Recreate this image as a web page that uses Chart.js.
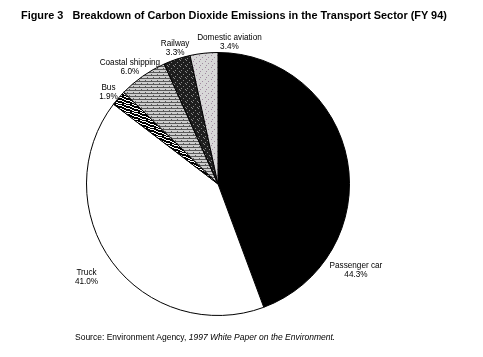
<!DOCTYPE html>
<html><head><meta charset="utf-8">
<script src="https://cdn.jsdelivr.net/npm/chart.js@4/dist/chart.umd.min.js"></script>
<style>
html,body{margin:0;padding:0;background:#fff;}
#wrap{position:relative;width:483px;height:357px;overflow:hidden;}
#title{position:absolute;left:21px;top:9px;font:bold 10.9px "Liberation Sans",Arial,sans-serif;white-space:pre;color:#000;}
#source{position:absolute;left:75px;top:332px;font:8.5px "Liberation Sans",Arial,sans-serif;white-space:pre;color:#000;}
canvas{position:absolute;left:0;top:0;}
</style></head>
<body><div id="wrap">
<canvas id="c" width="483" height="357"></canvas>
<div id="title">Figure 3   Breakdown of Carbon Dioxide Emissions in the Transport Sector (FY 94)</div>
<div id="source">Source: Environment Agency, <i>1997 White Paper on the Environment.</i></div>
</div>
<script>
const categories = ["Passenger car", "Truck", "Bus", "Coastal shipping", "Railway", "Domestic aviation"];
const shares = [44.3, 41.0, 1.9, 6.0, 3.3, 3.4];

function makePattern(bg, fg, rows) {
  const h = rows.length, w = rows[0].length;
  const cv = document.createElement('canvas');
  cv.width = w; cv.height = h;
  const g = cv.getContext('2d');
  g.fillStyle = bg; g.fillRect(0, 0, w, h);
  g.fillStyle = fg;
  for (let y = 0; y < h; y++) for (let x = 0; x < w; x++) if (rows[y][x] === '1') g.fillRect(x, y, 1, 1);
  return g.createPattern(cv, 'repeat');
}
const busPat = makePattern('#ffffff', '#000000', [
  "11110011","00111100","11001111","11110011","00111100","11001111","11110011","00111100"]);
const shipPat = makePattern('#cdcdcd', '#5a5a5a', [
  "111111","000000","010000","111111","000000","000100"]);
const railPat = makePattern('#1e1e1e', '#8a8a8a', [
  "100000","000000","000100","000000","010000","000001"]);
const airPat = makePattern('#d8d8d8', '#a08aa0', [
  "000000","010000","000000","000010","000000","001000"]);

const labelOffsets = [[1.049, 0.659], [-1.0, 0.712], [-0.833, -0.701], [-0.670, -0.890], [-0.326, -1.034], [0.087, -1.076]];

const labelPlugin = {
  id: 'pieLabels',
  afterDatasetsDraw(chart) {
    const ctx = chart.ctx;
    const meta = chart.getDatasetMeta(0);
    ctx.save();
    ctx.fillStyle = '#000';
    ctx.font = '8.2px "Liberation Sans", Arial, sans-serif';
    ctx.textAlign = 'center';
    ctx.textBaseline = 'middle';
    meta.data.forEach((arc, i) => {
      const R = arc.outerRadius;
      const x = arc.x + labelOffsets[i][0] * R;
      const y = arc.y + labelOffsets[i][1] * R;
      ctx.fillText(categories[i], x, y - 4.5);
      ctx.fillText(shares[i].toFixed(1) + '%', x, y + 4.5);
    });
    ctx.restore();
  }
};

new Chart(document.getElementById('c'), {
  type: 'pie',
  data: {
    labels: categories,
    datasets: [{
      data: shares,
      backgroundColor: ['#000000', '#ffffff', busPat, shipPat, railPat, airPat],
      borderColor: '#000000',
      borderWidth: 1
    }]
  },
  options: {
    responsive: false,
    animation: false,
    devicePixelRatio: 1,
    layout: { padding: { left: 86, right: 133, top: 52, bottom: 41 } },
    plugins: { legend: { display: false }, tooltip: { enabled: false }, title: { display: false } }
  },
  plugins: [labelPlugin]
});
</script>
</body></html>
